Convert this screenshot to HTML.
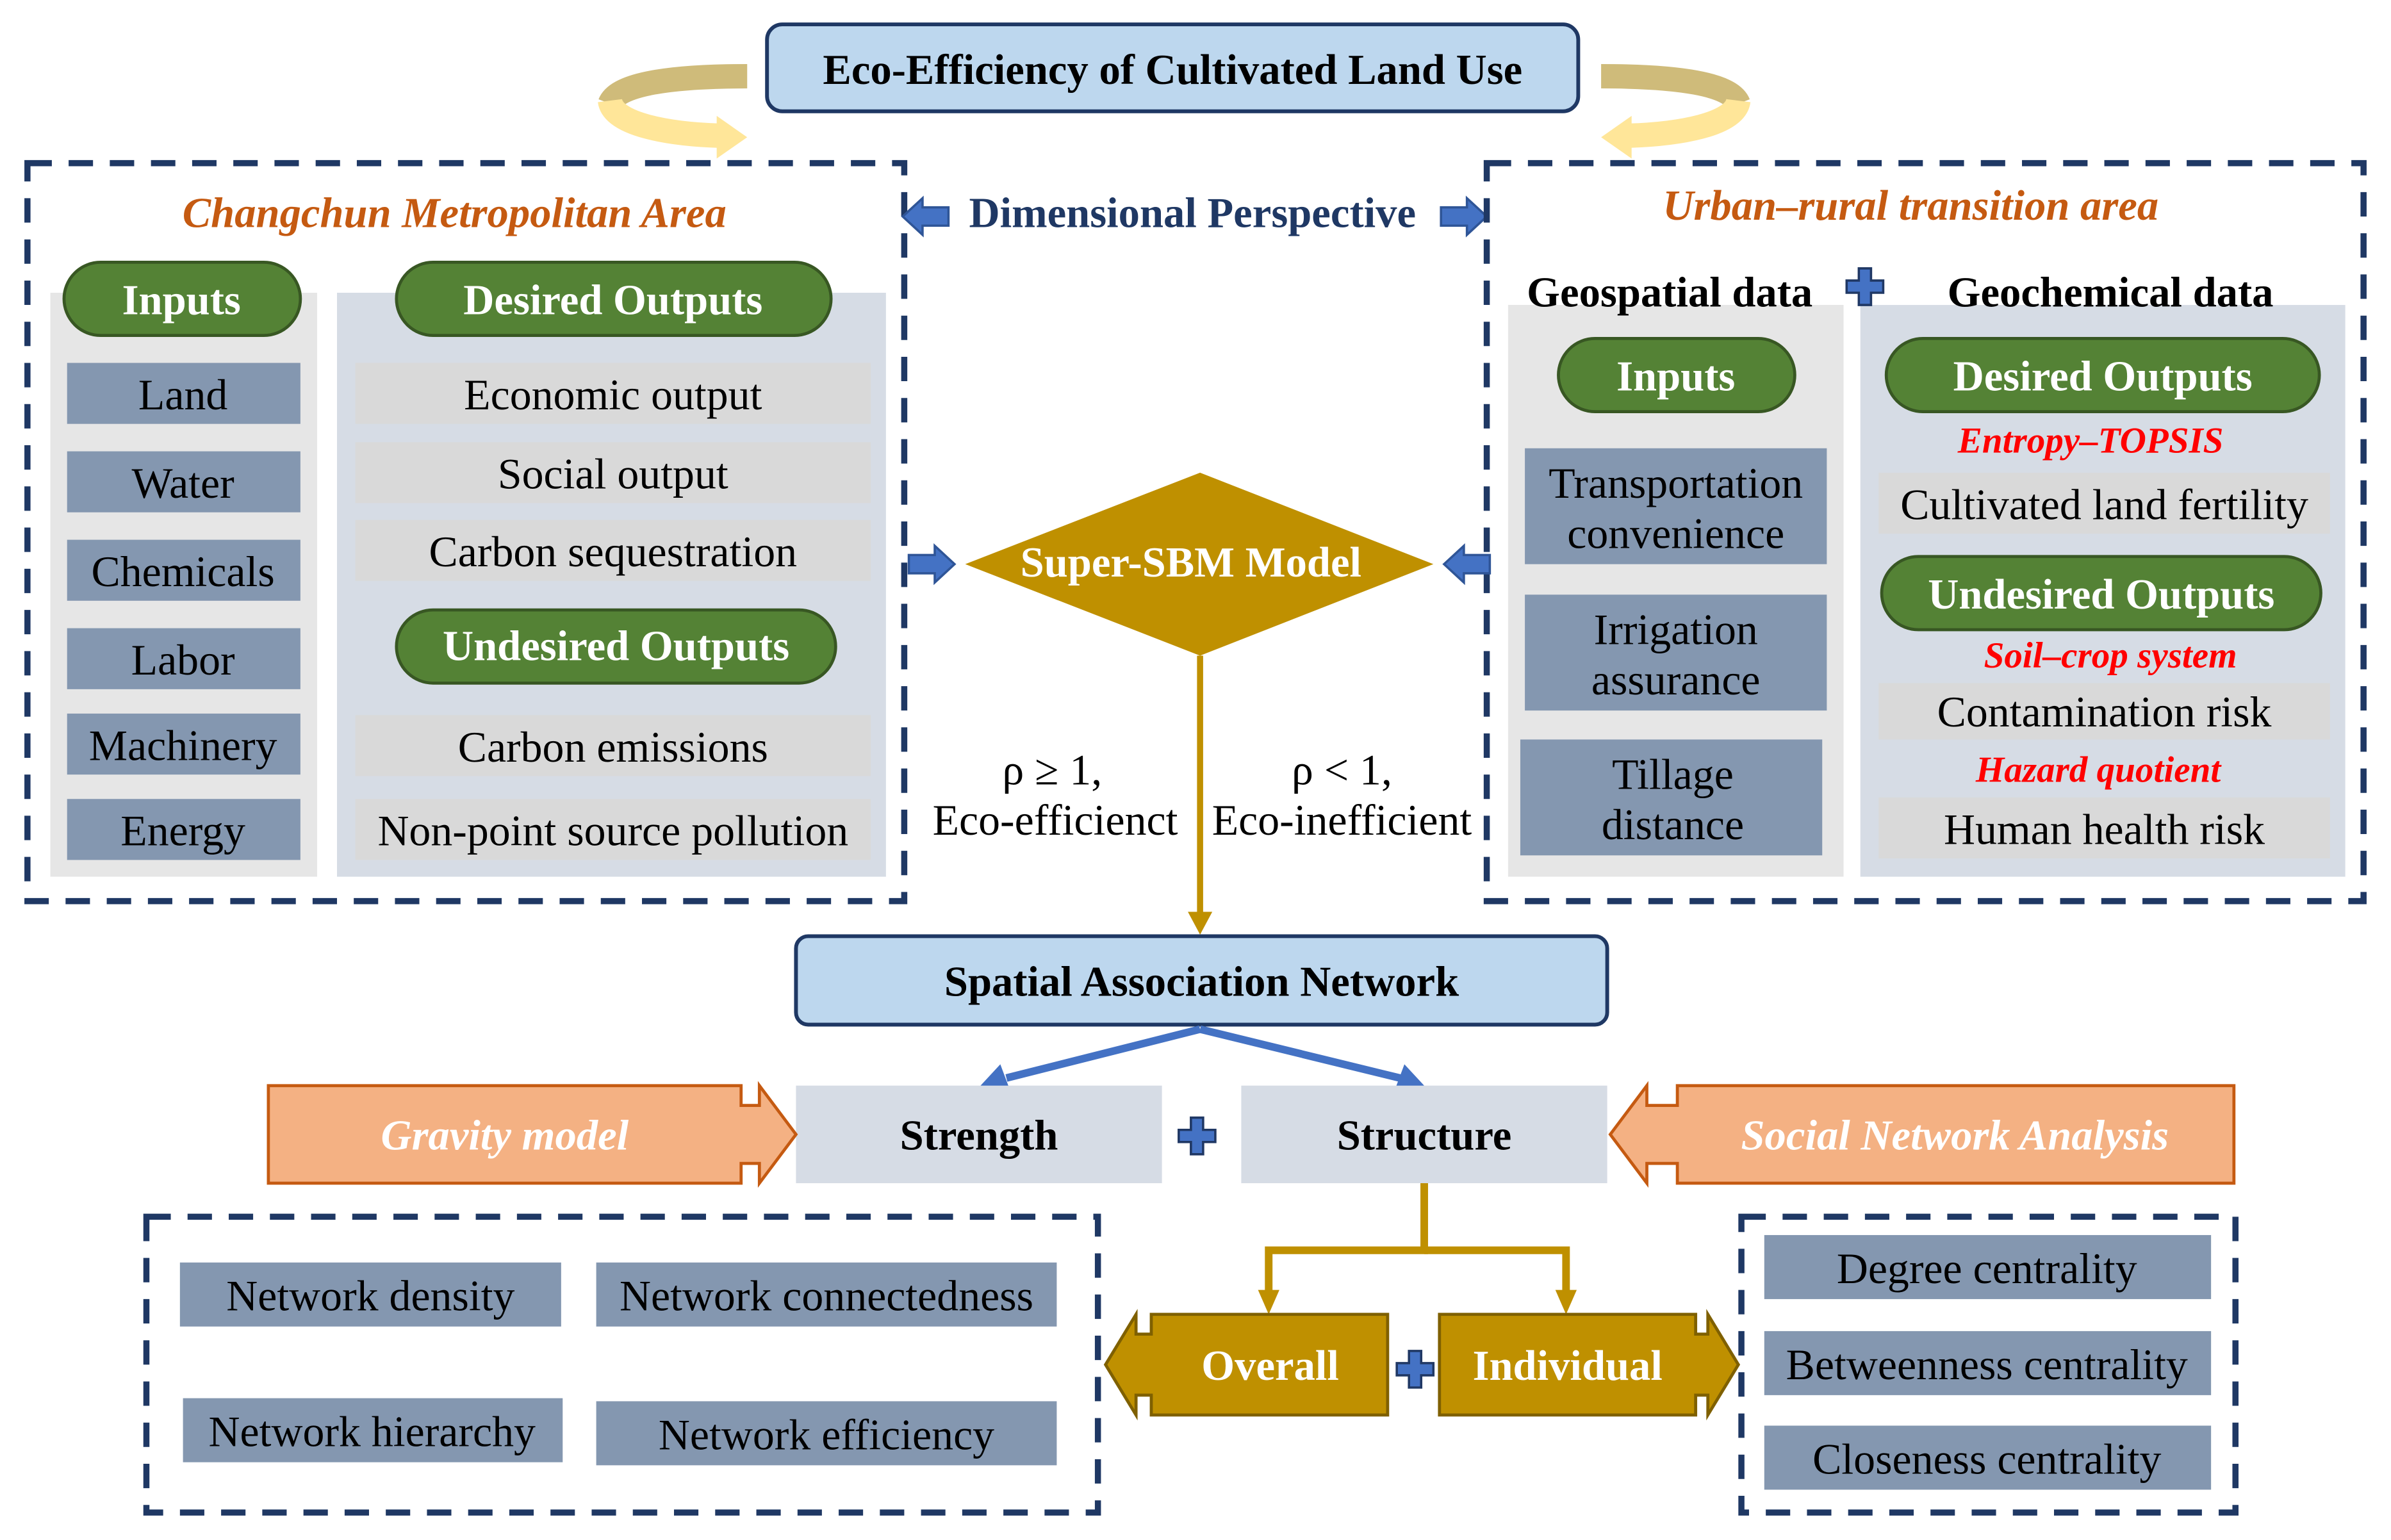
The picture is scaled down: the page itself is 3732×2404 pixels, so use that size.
<!DOCTYPE html>
<html><head><meta charset="utf-8"><style>
html,body{margin:0;padding:0;background:#fff}
svg{display:block}
text{font-family:"Liberation Serif",serif;text-anchor:middle;dominant-baseline:central}
.b{font-weight:bold}
.w{fill:#fff}
.it{font-style:italic;font-weight:bold}
</style></head><body>
<svg width="3732" height="2404" viewBox="0 0 1568 1010" preserveAspectRatio="none" xmlns="http://www.w3.org/2000/svg">
<defs>
<g id="plus"><path d="M-4,-12 H4 V-4 H12 V4 H4 V12 H-4 V4 H-12 V-4 H-4 Z" fill="#4472c4" stroke="#203864" stroke-width="1.5"/></g>
</defs>
<rect width="1568" height="1010" fill="#fff"/>

<path d="M490,50 C440,50 405,55 400,68" fill="none" stroke="#cfbb7a" stroke-width="16"/>
<path d="M400,66 C402,82 440,88 472,89" fill="none" stroke="#ffe699" stroke-width="16"/>
<polygon points="470,76 490,90 470,104" fill="#ffe699"/>
<path d="M1050,50 C1100,50 1135,55 1140,68" fill="none" stroke="#cfbb7a" stroke-width="16"/>
<path d="M1140,66 C1138,82 1100,88 1068,89" fill="none" stroke="#ffe699" stroke-width="16"/>
<polygon points="1070,76 1050,90 1070,104" fill="#ffe699"/>

<rect x="503" y="16" width="532" height="57" rx="10" fill="#bdd7ee" stroke="#1f3864" stroke-width="2.5"/>
<text x="769" y="46" class="b" font-size="28">Eco-Efficiency of Cultivated Land Use</text>

<rect x="18" y="107" width="575" height="484" fill="none" stroke="#1f3864" stroke-width="4" stroke-dasharray="16 11"/>
<text x="298" y="140" class="it" font-size="28" fill="#c55a11">Changchun Metropolitan Area</text>
<rect x="33" y="192" width="175" height="383" fill="#e6e6e6"/>
<rect x="221" y="192" width="360" height="383" fill="#d6dce5"/>
<rect x="42" y="172" width="155" height="48" rx="24" fill="#548235" stroke="#385723" stroke-width="2"/>
<text x="119" y="197" class="b w" font-size="28">Inputs</text>
<rect x="260" y="172" width="285" height="48" rx="24" fill="#548235" stroke="#385723" stroke-width="2"/>
<text x="402" y="197" class="b w" font-size="28">Desired Outputs</text>
<g fill="#8497b0">
<rect x="44" y="238" width="153" height="40"/><rect x="44" y="296" width="153" height="40"/>
<rect x="44" y="354" width="153" height="40"/><rect x="44" y="412" width="153" height="40"/>
<rect x="44" y="468" width="153" height="40"/><rect x="44" y="524" width="153" height="40"/>
</g>
<g font-size="28.5">
<text x="120" y="259">Land</text><text x="120" y="317">Water</text><text x="120" y="375">Chemicals</text>
<text x="120" y="433">Labor</text><text x="120" y="489">Machinery</text><text x="120" y="545">Energy</text>
</g>
<g fill="#d9d9d9">
<rect x="233" y="238" width="338" height="40"/><rect x="233" y="290" width="338" height="40"/>
<rect x="233" y="341" width="338" height="40"/><rect x="233" y="469" width="338" height="40"/>
<rect x="233" y="524" width="338" height="40"/>
</g>
<g font-size="28.5">
<text x="402" y="259">Economic output</text><text x="402" y="311">Social output</text>
<text x="402" y="362">Carbon sequestration</text><text x="402" y="490">Carbon emissions</text>
<text x="402" y="545">Non-point source pollution</text>
</g>
<rect x="260" y="400" width="288" height="48" rx="24" fill="#548235" stroke="#385723" stroke-width="2"/>
<text x="404" y="424" class="b w" font-size="28">Undesired Outputs</text>

<text x="782" y="140" class="b" font-size="28" fill="#1f3864">Dimensional Perspective</text>
<polygon points="592,142 605,130 605,136 622,136 622,148 605,148 605,154" fill="#4472c4" stroke="#2f5597" stroke-width="1.5"/>
<polygon points="975,142 962,130 962,136 945,136 945,148 962,148 962,154" fill="#4472c4" stroke="#2f5597" stroke-width="1.5"/>

<rect x="975" y="107" width="575" height="484" fill="none" stroke="#1f3864" stroke-width="4" stroke-dasharray="16 11"/>
<text x="1253" y="135" class="it" font-size="28" fill="#c55a11">Urban–rural transition area</text>
<rect x="989" y="200" width="220" height="375" fill="#e6e6e6"/>
<rect x="1220" y="200" width="318" height="375" fill="#d6dce5"/>
<text x="1095" y="192" class="b" font-size="28">Geospatial data</text>
<use href="#plus" x="1223" y="188"/>
<text x="1384" y="192" class="b" font-size="28">Geochemical data</text>
<rect x="1022" y="222" width="155" height="48" rx="24" fill="#548235" stroke="#385723" stroke-width="2"/>
<text x="1099" y="247" class="b w" font-size="28">Inputs</text>
<g fill="#8497b0">
<rect x="1000" y="294" width="198" height="76"/><rect x="1000" y="390" width="198" height="76"/>
<rect x="997" y="485" width="198" height="76"/>
</g>
<g font-size="28.5">
<text x="1099" y="317">Transportation</text><text x="1099" y="350">convenience</text>
<text x="1099" y="413">Irrigation</text><text x="1099" y="446">assurance</text>
<text x="1097" y="508">Tillage</text><text x="1097" y="541">distance</text>
</g>
<rect x="1237" y="222" width="284" height="48" rx="24" fill="#548235" stroke="#385723" stroke-width="2"/>
<text x="1379" y="247" class="b w" font-size="28">Desired Outputs</text>
<text x="1371" y="289" class="it" font-size="24" fill="#ff0000">Entropy–TOPSIS</text>
<rect x="1232" y="310" width="296" height="40" fill="#d9d9d9"/>
<text x="1380" y="331" font-size="28.5">Cultivated land fertility</text>
<rect x="1234" y="365" width="288" height="48" rx="24" fill="#548235" stroke="#385723" stroke-width="2"/>
<text x="1378" y="390" class="b w" font-size="28">Undesired Outputs</text>
<text x="1384" y="430" class="it" font-size="24" fill="#ff0000">Soil–crop system</text>
<rect x="1232" y="448" width="296" height="37" fill="#d9d9d9"/>
<text x="1380" y="467" font-size="28.5">Contamination risk</text>
<text x="1376" y="505" class="it" font-size="24" fill="#ff0000">Hazard quotient</text>
<rect x="1232" y="523" width="296" height="40" fill="#d9d9d9"/>
<text x="1380" y="544" font-size="28.5">Human health risk</text>

<polygon points="787,310 940,370 787,430 633,370" fill="#bf9000"/>
<text x="781" y="369" class="b w" font-size="28">Super-SBM Model</text>
<polygon points="626,370 613,358 613,364 596,364 596,376 613,376 613,382" fill="#4472c4" stroke="#2f5597" stroke-width="1.5"/>
<polygon points="947,370 960,358 960,364 977,364 977,376 960,376 960,382" fill="#4472c4" stroke="#2f5597" stroke-width="1.5"/>

<line x1="787" y1="430" x2="787" y2="600" stroke="#bf9000" stroke-width="4"/>
<polygon points="779,598 795,598 787,613" fill="#bf9000"/>
<g font-size="28.5">
<text x="690" y="505">ρ ≥ 1,</text><text x="692" y="538">Eco-efficienct</text>
<text x="880" y="505">ρ &lt; 1,</text><text x="880" y="538">Eco-inefficient</text>
</g>

<rect x="522" y="614" width="532" height="58" rx="8" fill="#bdd7ee" stroke="#1f3864" stroke-width="2.5"/>
<text x="788" y="644" class="b" font-size="28">Spatial Association Network</text>

<g stroke="#4472c4" stroke-width="5" fill="none">
<line x1="787" y1="675" x2="660" y2="707"/><line x1="787" y1="675" x2="918" y2="707"/>
</g>
<polygon points="643,712 656,698 662,714" fill="#4472c4"/>
<polygon points="934,712 921,698 915,714" fill="#4472c4"/>

<rect x="522" y="712" width="240" height="64" fill="#d6dce5"/>
<rect x="814" y="712" width="240" height="64" fill="#d6dce5"/>
<text x="642" y="745" class="b" font-size="28">Strength</text>
<text x="934" y="745" class="b" font-size="28">Structure</text>
<use href="#plus" x="785" y="745"/>

<path d="M176,712 H486 V725 H498 V712 L522,744 L498,776 V763 H486 V776 H176 Z" fill="#f4b183" stroke="#c55a11" stroke-width="2"/>
<text x="331" y="745" class="w it" font-size="28">Gravity model</text>
<path d="M1465,712 H1100 V725 H1080 V712 L1056,744 L1080,776 V763 H1100 V776 H1465 Z" fill="#f4b183" stroke="#c55a11" stroke-width="2"/>
<text x="1282" y="745" class="w it" font-size="28">Social Network Analysis</text>

<g stroke="#bf9000" stroke-width="5" fill="none">
<path d="M934,776 V820 H832 V848"/><path d="M934,820 H1027 V848"/>
</g>
<polygon points="825,846 839,846 832,862" fill="#bf9000"/>
<polygon points="1020,846 1034,846 1027,862" fill="#bf9000"/>

<path d="M755,862 H910 V928 H755 V915 H745 V928 L725,895 L745,862 V875 H755 Z" fill="#bf9000" stroke="#7f6000" stroke-width="2"/>
<text x="833" y="896" class="b w" font-size="28">Overall</text>
<path d="M944,862 H1112 V875 H1120 V862 L1140,895 L1120,928 V915 H1112 V928 H944 Z" fill="#bf9000" stroke="#7f6000" stroke-width="2"/>
<text x="1028" y="896" class="b w" font-size="28">Individual</text>
<use href="#plus" x="928" y="898"/>

<rect x="96" y="798" width="624" height="194" fill="none" stroke="#1f3864" stroke-width="4" stroke-dasharray="16 11"/>
<g fill="#8497b0">
<rect x="118" y="828" width="250" height="42"/><rect x="391" y="828" width="302" height="42"/>
<rect x="120" y="917" width="249" height="42"/><rect x="391" y="919" width="302" height="42"/>
</g>
<g font-size="28.5">
<text x="243" y="850">Network density</text><text x="542" y="850">Network connectedness</text>
<text x="244" y="939">Network hierarchy</text><text x="542" y="941">Network efficiency</text>
</g>

<rect x="1142" y="798" width="324" height="194" fill="none" stroke="#1f3864" stroke-width="4" stroke-dasharray="16 11"/>
<g fill="#8497b0">
<rect x="1157" y="810" width="293" height="42"/><rect x="1157" y="873" width="293" height="42"/>
<rect x="1157" y="935" width="293" height="42"/>
</g>
<g font-size="28.5">
<text x="1303" y="832">Degree centrality</text><text x="1303" y="895">Betweenness centrality</text>
<text x="1303" y="957">Closeness centrality</text>
</g>
</svg>
</body></html>
